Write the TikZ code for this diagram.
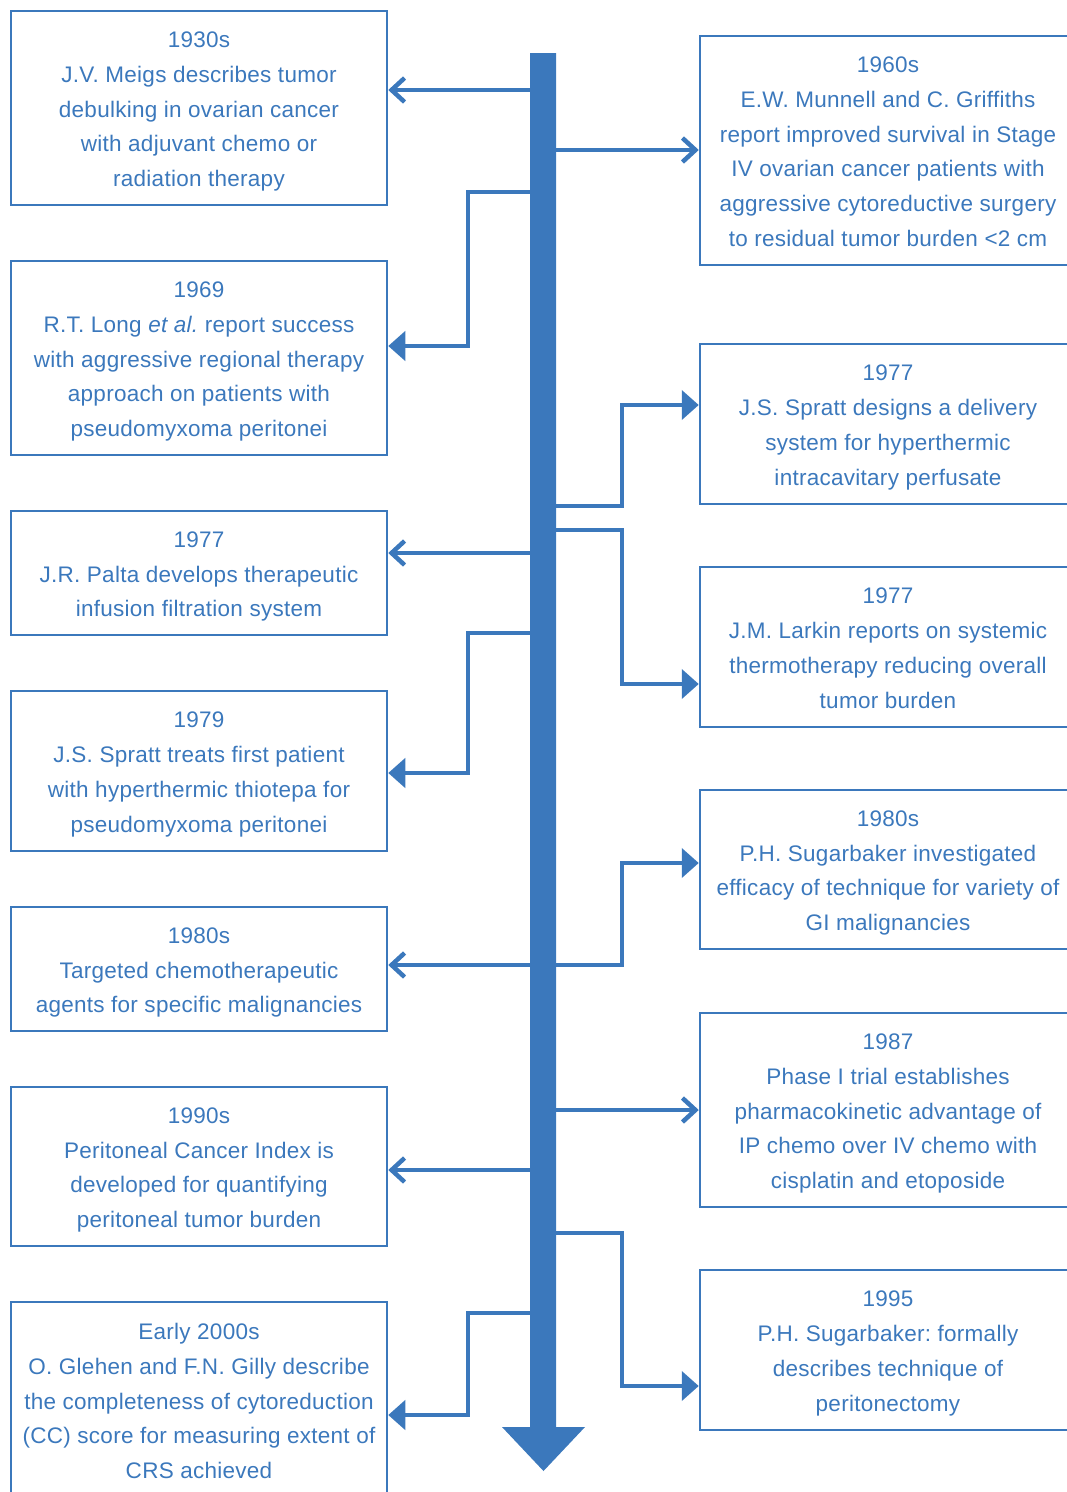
\documentclass[tikz,border=0pt]{standalone}
\usepackage{fontspec}
\setmainfont{Liberation Sans}[LetterSpace=1.2]
\usetikzlibrary{arrows.meta}
\definecolor{tlblue}{RGB}{59,120,188}
\frenchspacing
\newcommand\tsa{\rule[-6pt]{0pt}{30pt}}
\newcommand\tsb{\rule[-6pt]{0pt}{22pt}}
\begin{document}
\begin{tikzpicture}[x=1pt,y=-1pt,
  box/.style={draw=tlblue, line width=2.5pt, minimum width=376pt, inner sep=0pt,
    align=center, text=tlblue, font=\fontsize{22.5}{34.8}\selectfont\frenchspacing},
  conn/.style={draw=tlblue, line width=4.5pt, line join=miter},
  barb/.style={conn, -{Straight Barb[length=13pt,width=24pt]}},
  tri/.style={conn, -{Triangle[length=17pt,width=29pt]}},
]
\useasboundingbox (0,0) rectangle (1067,1492);
\clip (0,0) rectangle (1067,1492);

% left boxes
\node[box, minimum height=194pt] (l1) at (199,108) {\tsa 1930s\\J.V. Meigs describes tumor\\debulking in ovarian cancer\\with adjuvant chemo or\\radiation therapy\tsb};
\node[box, minimum height=194pt] (l2) at (199,358) {\tsa 1969\\R.T. Long \textit{et al.}\ report success\\with aggressive regional therapy\\approach on patients with\\pseudomyxoma peritonei\tsb};
\node[box, minimum height=124pt] (l3) at (199,573) {\tsa 1977\\J.R. Palta develops therapeutic\\infusion filtration system\tsb};
\node[box, minimum height=160pt] (l4) at (199,771) {\tsa 1979\\J.S. Spratt treats first patient\\with hyperthermic thiotepa for\\pseudomyxoma peritonei\tsb};
\node[box, minimum height=124pt] (l5) at (199,969) {\tsa 1980s\\Targeted chemotherapeutic\\agents for specific malignancies\tsb};
\node[box, minimum height=159pt] (l6) at (199,1166.5) {\tsa 1990s\\Peritoneal Cancer Index is\\developed for quantifying\\peritoneal tumor burden\tsb};
\node[box, minimum height=196pt] (l7) at (199,1400) {\tsa Early 2000s\\O. Glehen and F.N. Gilly describe\\the completeness of cytoreduction\\(CC) score for measuring extent of\\CRS achieved\tsb};

% right boxes
\node[box, minimum height=229pt] (r1) at (888,150.5) {\tsa 1960s\\E.W. Munnell and C. Griffiths\\report improved survival in Stage\\IV ovarian cancer patients with\\aggressive cytoreductive surgery\\to residual tumor burden <2 cm\tsb};
\node[box, minimum height=160pt] (r2) at (888,424) {\tsa 1977\\J.S. Spratt designs a delivery\\system for hyperthermic\\intracavitary perfusate\tsb};
\node[box, minimum height=160pt] (r3) at (888,647) {\tsa 1977\\J.M. Larkin reports on systemic\\thermotherapy reducing overall\\tumor burden\tsb};
\node[box, minimum height=159pt] (r4) at (888,869.5) {\tsa 1980s\\P.H. Sugarbaker investigated\\efficacy of technique for variety of\\GI malignancies\tsb};
\node[box, minimum height=194pt] (r5) at (888,1110) {\tsa 1987\\Phase I trial establishes\\pharmacokinetic advantage of\\IP chemo over IV chemo with\\cisplatin and etoposide\tsb};
\node[box, minimum height=160pt] (r6) at (888,1350) {\tsa 1995\\P.H. Sugarbaker: formally\\describes technique of\\peritonectomy\tsb};

% timeline bar
\fill[tlblue] (530,53) -- (556,53) -- (556,1427) -- (585,1427) -- (543.5,1471) -- (502,1427) -- (530,1427) -- cycle;

% connector start points on the bar
\coordinate (s1) at (543,90);
\coordinate (s2) at (543,192);
\coordinate (s3) at (543,553);
\coordinate (s4) at (543,633);
\coordinate (s5) at (543,965);
\coordinate (s6) at (543,1170);
\coordinate (s7) at (543,1313);
\coordinate (q1) at (543,150);
\coordinate (q2) at (543,506);
\coordinate (q3) at (543,530);
\coordinate (q4) at (543,965);
\coordinate (q5) at (543,1110);
\coordinate (q6) at (543,1233);

% left connectors
\draw[barb] (s1) -- (l1.east |- s1);
\draw[tri] (s2) -| (468,346) -- (l2.east |- 0,346);
\draw[barb] (s3) -- (l3.east |- s3);
\draw[tri] (s4) -| (468,773) -- (l4.east |- 0,773);
\draw[barb] (s5) -- (l5.east |- s5);
\draw[barb] (s6) -- (l6.east |- s6);
\draw[tri] (s7) -| (468,1415) -- (l7.east |- 0,1415);

% right connectors
\draw[barb] (q1) -- (r1.west |- q1);
\draw[tri] (q2) -| (622,405) -- (r2.west |- 0,405);
\draw[tri] (q3) -| (622,684) -- (r3.west |- 0,684);
\draw[tri] (q4) -| (622,863) -- (r4.west |- 0,863);
\draw[barb] (q5) -- (r5.west |- q5);
\draw[tri] (q6) -| (622,1386) -- (r6.west |- 0,1386);
\end{tikzpicture}
\end{document}
